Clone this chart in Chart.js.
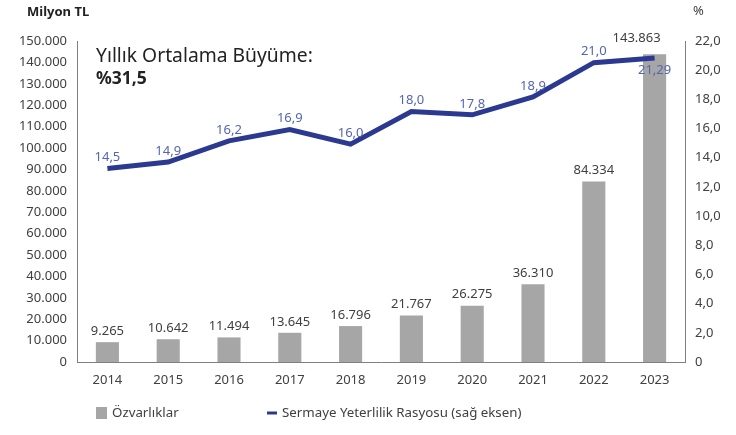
<!DOCTYPE html>
<html>
<head>
<meta charset="utf-8">
<script src="https://cdn.jsdelivr.net/npm/chart.js@4"></script>
<style>
  html, body { margin: 0; padding: 0; background: #fff; }
  #wrap { width: 736px; height: 435px; }
</style>
</head>
<body>
<div id="wrap"><canvas id="chart" width="736" height="435"></canvas></div>
<script>
// data
var years = ['2014', '2015', '2016', '2017', '2018', '2019', '2020', '2021', '2022', '2023'];
var equity = [9265, 10642, 11494, 13645, 16796, 21767, 26275, 36310, 84334, 143863];
var carRatio = [14.5, 14.9, 16.2, 16.9, 16.0, 18.0, 17.8, 18.9, 21.0, 21.29];
var leftTicks = [0, 10000, 20000, 30000, 40000, 50000, 60000, 70000, 80000, 90000, 100000, 110000, 120000, 130000, 140000, 150000];
var rightTicks = [0, 2, 4, 6, 8, 10, 12, 14, 16, 18, 20, 22];

var FONT = "'Noto Sans', sans-serif";
var GREY = '#a6a6a6';
var NAVY = '#2b3990';
var LABEL_BLUE = '#5566b0';
var TXT = '#404040';

function fmtThousands(v) {
  return String(v).replace(/\B(?=(\d{3})+(?!\d))/g, '.');
}
function fmtPct(v) {
  if (v === 0) return '0';
  var s = (Math.round(v * 10) === v * 10) ? v.toFixed(1) : String(v);
  return s.replace('.', ',');
}

// value labels, titles, note and legend
var extras = {
  id: 'extras',
  afterDatasetsDraw: function(chart) {
    var ctx = chart.ctx;
    ctx.save();
    ctx.textAlign = 'center';
    ctx.textBaseline = 'middle';
    ctx.font = '13px ' + FONT;

    // bar values
    ctx.fillStyle = TXT;
    chart.getDatasetMeta(0).data.forEach(function(bar, i) {
      var x = bar.x, y = bar.y - 11;
      if (i === equity.length - 1) { x -= 18; y -= 5; }
      ctx.fillText(fmtThousands(equity[i]), x, y);
    });

    // line values
    ctx.fillStyle = LABEL_BLUE;
    chart.getDatasetMeta(1).data.forEach(function(pt, i) {
      var y = (i === carRatio.length - 1) ? pt.y + 12 : pt.y - 11;
      ctx.fillText(fmtPct(carRatio[i]), pt.x, y);
    });

    // axis titles
    ctx.fillStyle = '#222';
    ctx.textAlign = 'left';
    ctx.font = 'bold 13px ' + FONT;
    ctx.fillText('Milyon TL', 27, 12);
    ctx.font = '13px ' + FONT;
    ctx.fillStyle = TXT;
    ctx.fillText('%', 693, 11);

    // note
    ctx.fillStyle = '#222';
    ctx.font = '19.3px ' + FONT;
    ctx.fillText('Yıllık Ortalama Büyüme:', 96, 57);
    ctx.font = 'bold 17.5px ' + FONT;
    ctx.fillText('%31,5', 96, 79);

    // legend
    var ly = 413;
    ctx.font = '13.3px ' + FONT;
    var ds = chart.data.datasets;
    ctx.fillStyle = ds[0].backgroundColor;
    ctx.fillRect(96, ly - 6, 11, 12);
    ctx.fillStyle = TXT;
    ctx.fillText(ds[0].label, 112, ly);
    ctx.strokeStyle = ds[1].borderColor;
    ctx.lineWidth = 3;
    ctx.beginPath();
    ctx.moveTo(267, ly);
    ctx.lineTo(277, ly);
    ctx.stroke();
    ctx.fillStyle = TXT;
    ctx.fillText(ds[1].label, 282, ly);
    ctx.restore();
  }
};

var ctx = document.getElementById('chart').getContext('2d');

var myChart = new Chart(ctx, {
  data: {
    labels: years,
    datasets: [
      {
        type: 'bar',
        label: 'Özvarlıklar',
        data: equity,
        backgroundColor: GREY,
        barPercentage: 0.38,
        categoryPercentage: 1,
        yAxisID: 'y',
        order: 2
      },
      {
        type: 'line',
        label: 'Sermaye Yeterlilik Rasyosu (sağ eksen)',
        data: carRatio,
        borderColor: NAVY,
        backgroundColor: NAVY,
        borderWidth: 5,
        pointRadius: 0,
        tension: 0,
        yAxisID: 'yLine',
        order: 1
      }
    ]
  },
  plugins: [extras],
  options: {
    responsive: false,
    animation: false,
    layout: { padding: { left: 5, right: 0, top: 41, bottom: 43 } },
    plugins: {
      legend: { display: false },
      tooltip: { enabled: false }
    },
    scales: {
      x: {
        grid: { display: false, drawTicks: false },
        border: { color: '#7f7f7f', width: 1 },
        ticks: { color: TXT, font: { family: FONT, size: 13 }, padding: 10 },
        afterFit: function(s) { s.height = 30; }
      },
      y: {
        position: 'left',
        min: 0,
        max: 150000,
        afterBuildTicks: function(s) { s.ticks = leftTicks.map(function(v) { return { value: v }; }); },
        grid: { display: false, drawTicks: false },
        border: { color: '#7f7f7f', width: 1 },
        ticks: {
          color: TXT,
          font: { family: FONT, size: 13 },
          padding: 10,
          callback: function(v) { return fmtThousands(v); }
        },
        afterFit: function(s) { s.width = 72; }
      },
      y2: {
        position: 'right',
        min: 0,
        max: 22,
        afterBuildTicks: function(s) { s.ticks = rightTicks.map(function(v) { return { value: v }; }); },
        grid: { display: false, drawTicks: false },
        border: { color: '#7f7f7f', width: 1 },
        ticks: {
          color: TXT,
          font: { family: FONT, size: 13 },
          padding: 10,
          callback: function(v) { return fmtPct(v); }
        },
        afterFit: function(s) { s.width = 51; }
      },
      yLine: {
        display: false,
        min: 2.63,
        max: 22.33
      }
    }
  }
});
</script>
</body>
</html>
